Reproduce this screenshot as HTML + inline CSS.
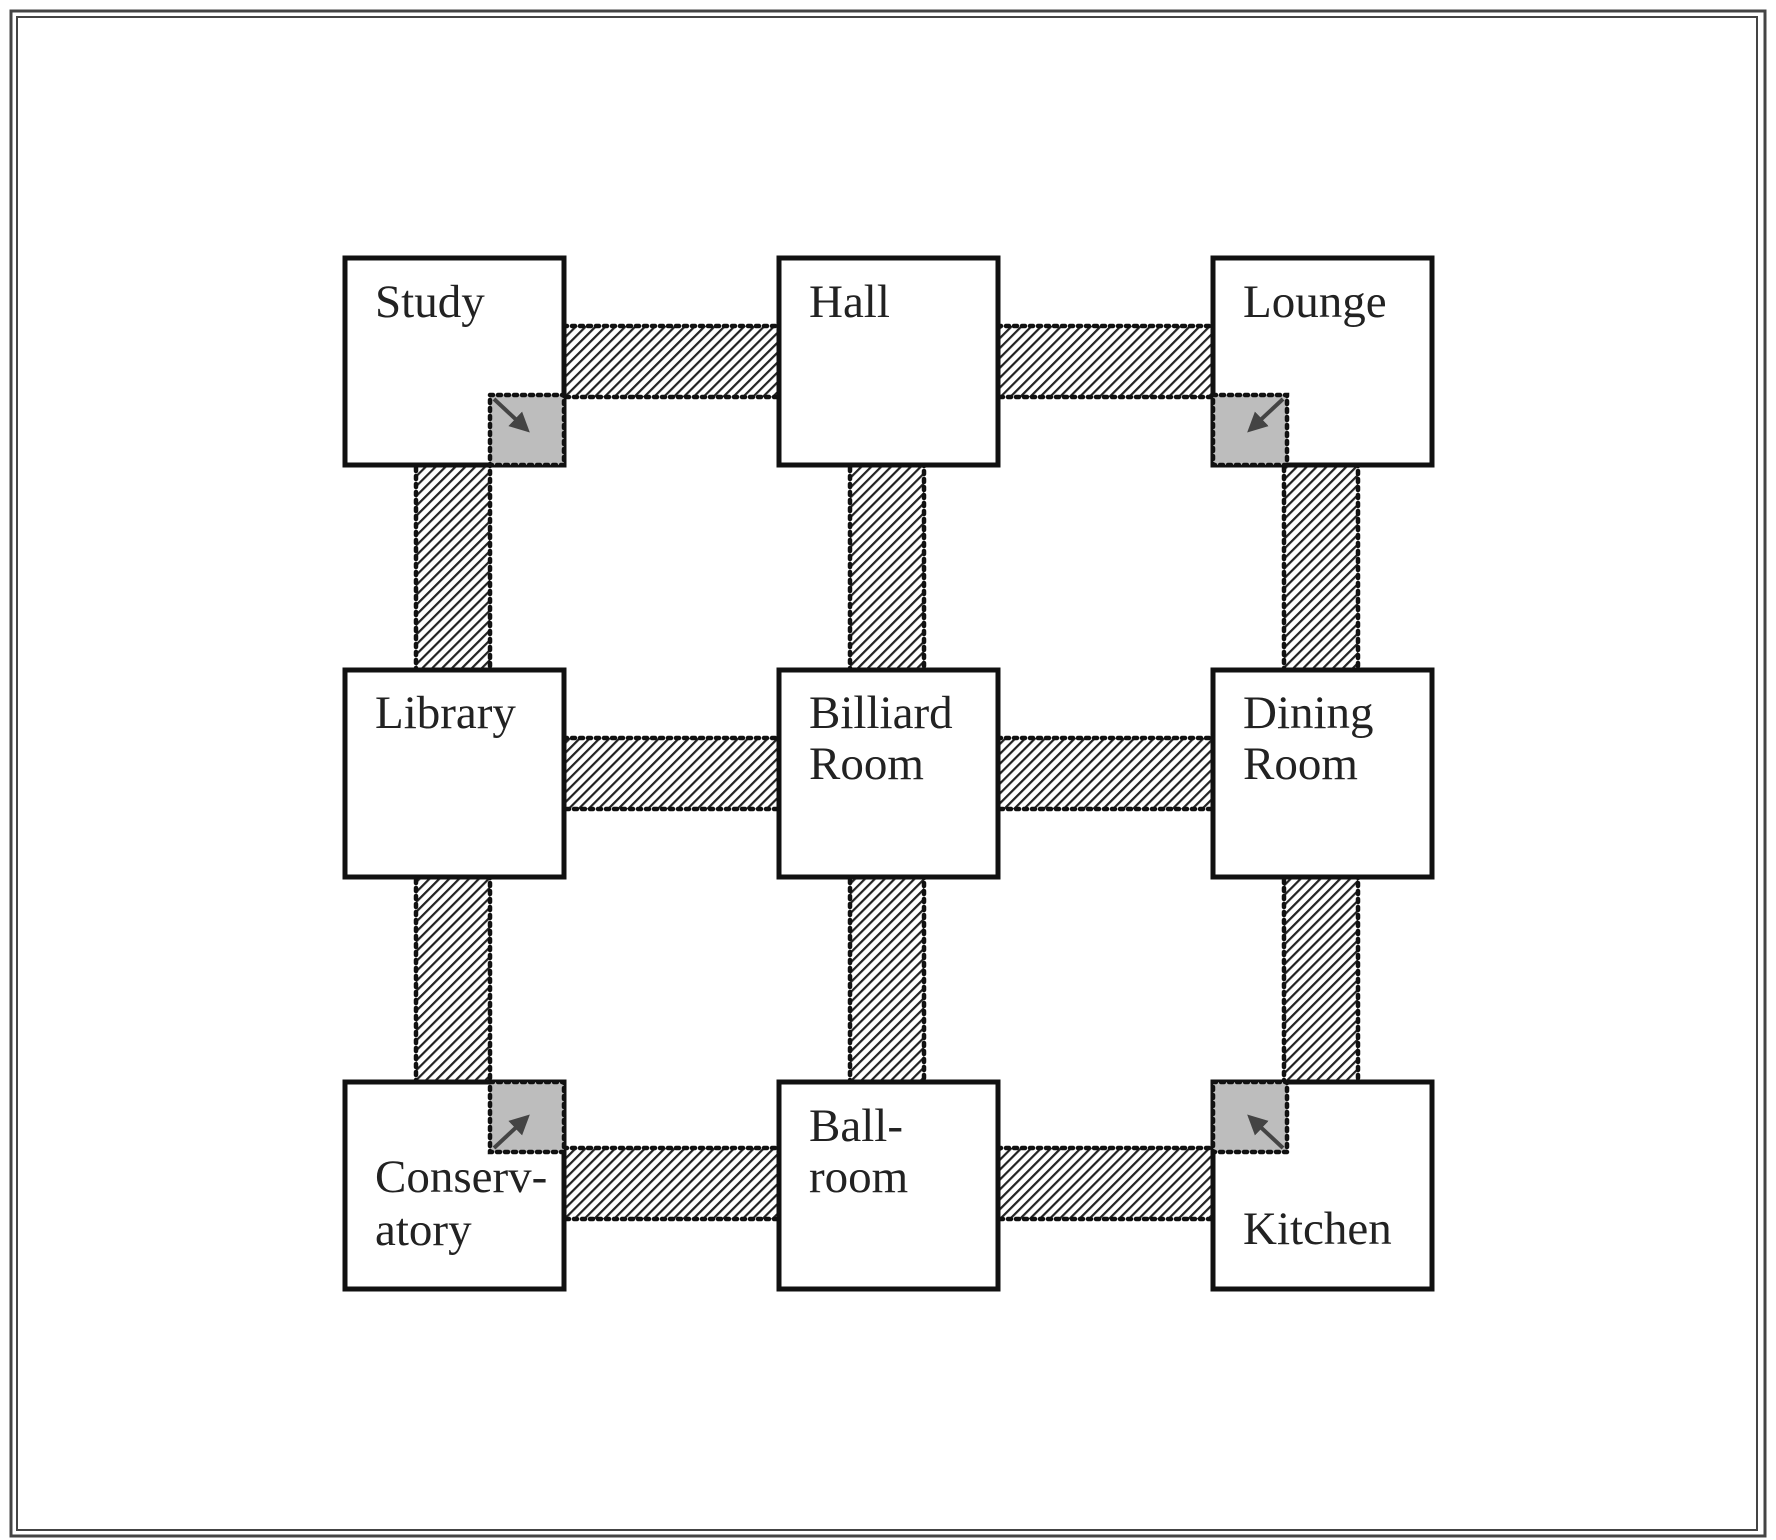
<!DOCTYPE html>
<html><head><meta charset="utf-8"><style>
html,body{margin:0;padding:0;background:#fff;}
svg{display:block;}
text{font-family:"Liberation Serif",serif;font-size:47px;fill:#222;}
</style></head><body>
<svg width="1776" height="1540" viewBox="0 0 1776 1540" xmlns="http://www.w3.org/2000/svg">
<defs>
<pattern id="h" patternUnits="userSpaceOnUse" width="7" height="7" patternTransform="rotate(45)">
<rect width="7" height="7" fill="#fff"/>
<rect x="0" y="0" width="2.2" height="7" fill="#222"/>
</pattern>
<marker id="a" markerWidth="5" markerHeight="5" refX="3" refY="2.5" orient="auto" markerUnits="strokeWidth">
<path d="M0,0 L5,2.5 L0,5 z" fill="#444"/>
</marker>
</defs>
<rect x="0" y="0" width="1776" height="1540" fill="#fff"/>
<rect x="11" y="11" width="1754" height="1525" fill="none" stroke="#444" stroke-width="3"/>
<rect x="17" y="17" width="1740" height="1513" fill="none" stroke="#444" stroke-width="2"/>

<g stroke="#111" stroke-width="4.5" stroke-dasharray="3 5" stroke-linecap="round" fill="url(#h)">
<rect x="564" y="326" width="215" height="71"/>
<rect x="998" y="326" width="215" height="71"/>
<rect x="564" y="738" width="215" height="71"/>
<rect x="998" y="738" width="215" height="71"/>
<rect x="564" y="1148" width="215" height="71"/>
<rect x="998" y="1148" width="215" height="71"/>
<rect x="416" y="465" width="74" height="205"/>
<rect x="850" y="465" width="74" height="205"/>
<rect x="1284" y="465" width="74" height="205"/>
<rect x="416" y="877" width="74" height="205"/>
<rect x="850" y="877" width="74" height="205"/>
<rect x="1284" y="877" width="74" height="205"/>
</g>

<g fill="#fff" stroke="#111" stroke-width="5">
<rect x="345" y="258" width="219" height="207"/>
<rect x="779" y="258" width="219" height="207"/>
<rect x="1213" y="258" width="219" height="207"/>
<rect x="345" y="670" width="219" height="207"/>
<rect x="779" y="670" width="219" height="207"/>
<rect x="1213" y="670" width="219" height="207"/>
<rect x="345" y="1082" width="219" height="207"/>
<rect x="779" y="1082" width="219" height="207"/>
<rect x="1213" y="1082" width="219" height="207"/>
</g>

<g fill="#bdbdbd" stroke="#111" stroke-width="4.5" stroke-dasharray="3 5" stroke-linecap="round">
<rect x="490" y="395" width="74" height="70"/>
<rect x="1213" y="395" width="74" height="70"/>
<rect x="490" y="1082" width="74" height="70"/>
<rect x="1213" y="1082" width="74" height="70"/>
</g>

<g stroke="#444" stroke-width="4" fill="none" marker-end="url(#a)">
<line x1="494" y1="399" x2="524" y2="427"/>
<line x1="1283" y1="399" x2="1253" y2="427"/>
<line x1="494" y1="1148" x2="524" y2="1120"/>
<line x1="1283" y1="1148" x2="1253" y2="1120"/>
</g>

<text x="375" y="317">Study</text>
<text x="809" y="317">Hall</text>
<text x="1243" y="317">Lounge</text>
<text x="375" y="728">Library</text>
<text x="809" y="728">Billiard</text>
<text x="809" y="779">Room</text>
<text x="1243" y="728">Dining</text>
<text x="1243" y="779">Room</text>
<text x="809" y="1141">Ball-</text>
<text x="809" y="1192">room</text>
<text x="375" y="1192">Conserv-</text>
<text x="375" y="1245">atory</text>
<text x="1243" y="1244">Kitchen</text>
</svg>
</body></html>
